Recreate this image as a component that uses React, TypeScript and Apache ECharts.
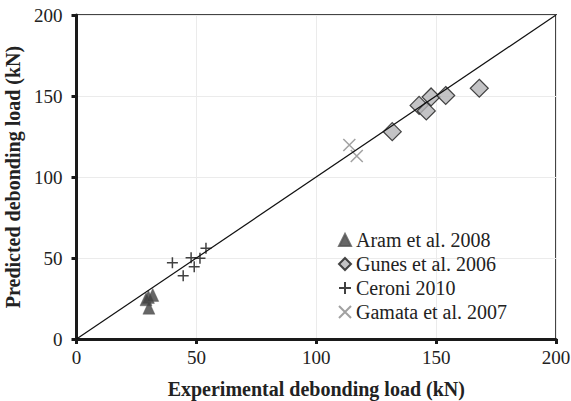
import React, { useEffect, useRef } from "react";
import * as echarts from "echarts";

// Experimental vs predicted debonding loads (kN)
const aramData: number[][] = [
  [29.0, 24.5],
  [30.0, 26.0],
  [31.8, 27.2],
  [30.2, 19.3],
];
const gunesData: number[][] = [
  [131.7, 128.0],
  [142.9, 144.2],
  [145.9, 140.8],
  [147.9, 149.4],
  [154.0, 150.3],
  [168.0, 154.8],
];
const ceroniData: number[][] = [
  [40.0, 47.1],
  [44.5, 39.1],
  [47.8, 50.2],
  [49.1, 44.6],
  [51.5, 49.8],
  [54.0, 56.0],
];
const gamataData: number[][] = [
  [113.8, 119.8],
  [116.9, 113.0],
];
const equalityLine: number[][] = [
  [0, 0],
  [200, 200],
];
const seriesNames = ["Aram et al. 2008", "Gunes et al. 2006", "Ceroni 2010", "Gamata et al. 2007"];
const xTitle = "Experimental debonding load (kN)";
const yTitle = "Predicted debonding load (kN)";

const FONT = "Liberation Serif, serif";
const PLUS = "path://M0,5L10,5M5,0L5,10";
const CROSS = "path://M0,0L10,10M10,0L0,10";

export default function App() {
  const ref = useRef<HTMLDivElement>(null);

  useEffect(() => {
    if (!ref.current) return;
    const chart = echarts.init(ref.current, undefined, { renderer: "svg" });
    const axisCommon = {
      type: "value" as const,
      min: 0,
      max: 200,
      interval: 50,
      nameLocation: "middle" as const,
      nameTextStyle: { fontFamily: FONT, fontSize: 20, fontWeight: "bold", color: "#222" },
      axisLine: { show: true, onZero: false, lineStyle: { color: "#1a1a1a", width: 3 } },
      axisTick: { show: true, inside: false, length: 5, lineStyle: { color: "#1a1a1a", width: 3 } },
      axisLabel: { fontFamily: FONT, fontSize: 19, color: "#222" },
      splitLine: { show: true, lineStyle: { color: "#ebebeb", width: 1 } },
    };
    chart.setOption({
      animation: false,
      backgroundColor: "#fff",
      textStyle: { fontFamily: FONT },
      grid: {
        left: 76.5,
        right: 15,
        top: 15,
        bottom: 62,
        containLabel: false,
        outerBoundsMode: "none",
        show: true,
        borderColor: "#444",
        borderWidth: 2,
        backgroundColor: "transparent",
      },
      xAxis: { ...axisCommon, name: xTitle, nameGap: 40, axisLabel: { ...axisCommon.axisLabel, margin: 9 } },
      yAxis: { ...axisCommon, name: yTitle, nameGap: 45, axisLabel: { ...axisCommon.axisLabel, margin: 14 } },
      legend: {
        orient: "vertical",
        left: 333,
        top: 225,
        itemWidth: 12,
        itemHeight: 12,
        itemGap: 4,
        textStyle: { fontFamily: FONT, fontSize: 20, color: "#222" },
        data: seriesNames,
      },
      series: [
        {
          name: seriesNames[0],
          type: "scatter",
          symbol: "triangle",
          symbolSize: [12, 13],
          itemStyle: { color: "#404040", borderColor: "#555", borderWidth: 0.5 },
          data: aramData,
          z: 3,
        },
        {
          name: seriesNames[1],
          type: "scatter",
          symbol: "diamond",
          symbolSize: 18,
          itemStyle: { color: "#b4b4b6", borderColor: "#1a1a1a", borderWidth: 1.2 },
          data: gunesData,
          z: 3,
        },
        {
          name: seriesNames[2],
          type: "scatter",
          symbol: PLUS,
          symbolSize: 11,
          itemStyle: { color: "transparent", borderColor: "#111", borderWidth: 1.5 },
          data: ceroniData,
          z: 3,
        },
        {
          name: seriesNames[3],
          type: "scatter",
          symbol: CROSS,
          symbolSize: 12,
          itemStyle: { color: "transparent", borderColor: "#8a8a8a", borderWidth: 1.5 },
          data: gamataData,
          z: 3,
        },
        {
          name: "1:1",
          type: "line",
          data: equalityLine,
          showSymbol: false,
          symbol: "none",
          silent: true,
          lineStyle: { color: "#111", width: 1.2 },
          z: 5,
        },
      ],
    });
    return () => chart.dispose();
  }, []);

  return <div ref={ref} style={{ width: 571, height: 401, position: "absolute", left: 0, top: 0 }} />;
}
